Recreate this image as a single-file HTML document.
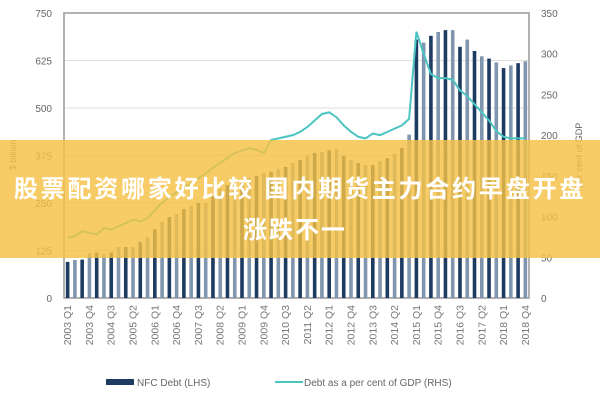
<!DOCTYPE html>
<html><head><meta charset="utf-8"><style>
body{margin:0;width:600px;height:400px;overflow:hidden;background:#fff;font-family:"Liberation Sans","Noto Sans CJK SC",sans-serif}
svg{position:absolute;left:0;top:0}
.banner{position:absolute;left:0;top:140px;width:600px;height:118px;background:rgba(245,193,70,0.82);color:#fff;font-weight:bold;font-size:24px;text-align:center;font-family:"Liberation Sans","Noto Sans CJK SC",sans-serif}
</style></head><body>
<svg id="chart" width="600" height="400"></svg>
<div class="banner"><div style="margin-top:29px;letter-spacing:2.8px;white-space:nowrap">股票配资哪家好比较 国内期货主力合约早盘开盘</div><div style="margin-top:6px;margin-left:-10px;letter-spacing:2px">涨跌不一</div></div>
<script>
const debt=[95,100,101,118,120,115,120,134,134,134,147,160,181,200,213,221,234,242,250,250,268,287,297,302,308,316,321,329,332,339,345,355,363,374,382,384,389,392,374,363,355,350,350,360,368,380,395,430,680,672,690,700,705,705,661,680,650,636,630,620,605,612,618,623];
const pct=[74,76,82,80,78,86,84,88,92,96,94,98,108,117,124,130,136,141,147,153,160,166,172,178,181,184,182,178,194,196,198,200,204,210,218,226,228,222,212,204,198,196,202,200,204,208,212,220,327,300,275,270,270,268,255,248,238,228,218,205,198,196,196,196];
const leftTicks=[0,125,250,375,500,625,750];
const rightTicks=[0,50,100,150,200,250,300,350];
const NS="http://www.w3.org/2000/svg";
const svg=document.getElementById('chart');
const X0=64,X1=529,Y0=298,Y1=13;
const n=debt.length,step=(X1-X0)/n;
const xc=i=>X0+(i+0.5)*step;
const yL=v=>Y0-(v/750)*(Y0-Y1);
const yR=v=>Y0-(v/350)*(Y0-Y1);
function mk(tag,attrs){const e=document.createElementNS(NS,tag);for(const k in attrs)e.setAttribute(k,attrs[k]);svg.appendChild(e);return e;}
leftTicks.forEach(t=>{
 if(t>0&&t<750){const g=mk('line',{x1:X0,x2:X1,y1:yL(t),y2:yL(t),stroke:'#ddd','stroke-width':1});
 
 }
 const l=mk('text',{x:52,y:yL(t)+4,'text-anchor':'end','font-size':10,fill:'#666'});l.textContent=t;
 
 
});
rightTicks.forEach(t=>{const l=mk('text',{x:541,y:yR(t)+4,'font-size':10,fill:'#666'});l.textContent=t;
 
 });
const fr=mk('rect',{x:X0,y:Y1,width:X1-X0,height:Y0-Y1,fill:'none',stroke:'#999','stroke-width':1.5});


debt.forEach((v,i)=>{const b=mk('rect',{x:xc(i)-1.8,y:yL(v),width:3.6,height:Y0-yL(v),fill:i%2?'#7f96ae':'#1e3c62'});
 
 });
const ln=mk('polyline',{points:pct.map((v,i)=>xc(i)+','+yR(v)).join(' '),fill:'none',stroke:'#4cc4c2','stroke-width':2});


for(let i=0;i<n;i+=3){const y=2003+Math.floor(i/4),q=i%4+1;
 const t=mk('text',{transform:`translate(${xc(i)+3.5},305) rotate(-90)`,'text-anchor':'end','font-size':10.5,fill:'#777'});t.textContent=y+' Q'+q;
 
 }
const ya=mk('text',{transform:'translate(16,155) rotate(-90)','text-anchor':'middle','font-size':9,fill:'#666'});ya.textContent='$ billion';


const yb=mk('text',{transform:'translate(582,155) rotate(-90)','text-anchor':'middle','font-size':9,fill:'#666'});yb.textContent='per cent of GDP';


const l1=mk('rect',{x:106,y:379,width:28,height:6,fill:'#1e3c62'});


const t1=mk('text',{x:137,y:386,'font-size':10,fill:'#666'});t1.textContent='NFC Debt (LHS)';


const l2=mk('line',{x1:275,x2:303,y1:382,y2:382,stroke:'#4cc4c2','stroke-width':2});


const t2=mk('text',{x:304,y:386,'font-size':10,fill:'#666'});t2.textContent='Debt as a per cent of GDP (RHS)';


</script>
</body></html>
